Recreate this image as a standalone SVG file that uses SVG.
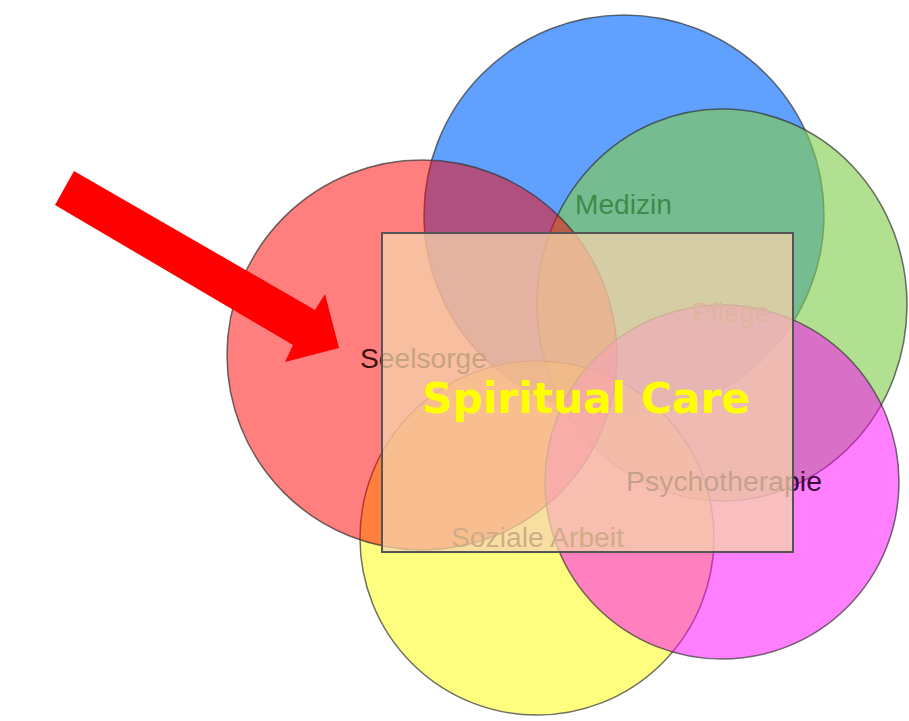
<svg xmlns="http://www.w3.org/2000/svg" width="909" height="721" viewBox="0 0 909 721">
<style>
.c{stroke:#333;stroke-opacity:0.7;stroke-width:1.5}
.lbl{font-family:"Liberation Sans",Arial,sans-serif;font-size:27px}
</style>
<rect width="909" height="721" fill="#fff"/>
<g id="medizin-circle"><circle class="c" cx="624" cy="215" r="200" fill="#0a6eff" fill-opacity="0.65"/></g>
<g id="pflege-circle"><ellipse class="c" cx="722" cy="305" rx="185" ry="196" fill="#82ce4f" fill-opacity="0.63"/></g>
<g id="soziale-circle"><circle class="c" cx="537" cy="538" r="177" fill="#ffff00" fill-opacity="0.5"/></g>
<g id="seelsorge-circle"><circle class="c" cx="422" cy="355" r="195" fill="#ff0000" fill-opacity="0.5"/></g>
<g id="psycho-circle"><circle class="c" cx="722" cy="482" r="177" fill="#ff00ff" fill-opacity="0.5"/></g>
<g id="labels">
<text class="lbl" x="575" y="214" fill="#3f8a4a" textLength="97" lengthAdjust="spacingAndGlyphs">Medizin</text>
<text class="lbl" x="692" y="322" fill="#a05a80" textLength="78" lengthAdjust="spacingAndGlyphs">Pflege</text>
<text class="lbl" x="360" y="368" fill="#3a1010" textLength="127" lengthAdjust="spacingAndGlyphs">Seelsorge</text>
<text class="lbl" x="626" y="491" fill="#3a0a3a" textLength="196" lengthAdjust="spacingAndGlyphs">Psychotherapie</text>
<text class="lbl" x="451" y="547" fill="#5a3a20" textLength="173" lengthAdjust="spacingAndGlyphs">Soziale Arbeit</text>
</g>
<g id="spiritual-care">
<rect x="382" y="233" width="411" height="319" fill="#f6d3ab" fill-opacity="0.75" stroke="#555" stroke-width="2"/>
<text x="422" y="413" font-family="'DejaVu Sans',sans-serif" font-weight="bold" font-size="42" fill="#ffff00" textLength="328" lengthAdjust="spacingAndGlyphs">Spiritual Care</text>
</g>
<g id="connectors">
<polygon points="74,171 315,310 325,294 339,348 285,362 293,345 55,205" fill="#ff0000"/>
</g>
</svg>
